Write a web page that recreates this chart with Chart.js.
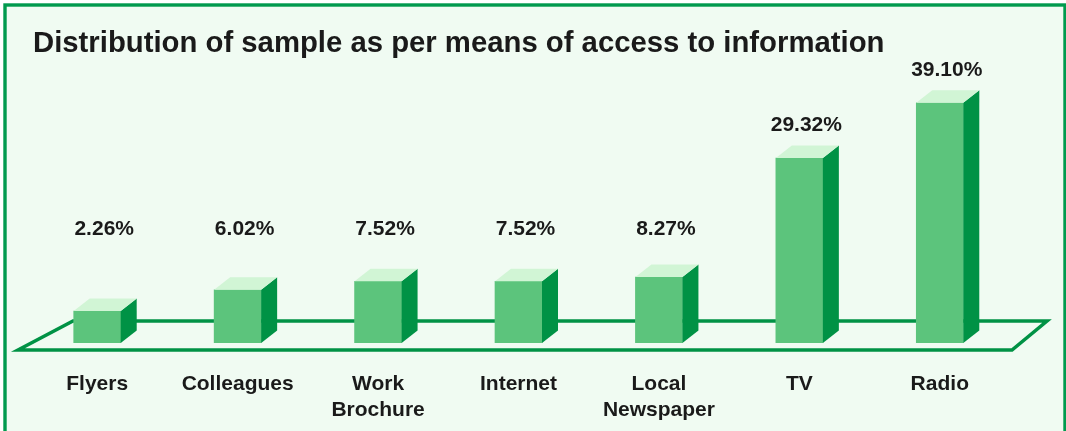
<!DOCTYPE html>
<html>
<head>
<meta charset="utf-8">
<script src="https://cdn.jsdelivr.net/npm/chart.js@4/dist/chart.umd.min.js"></script>
<style>
  html, body { margin: 0; padding: 0; background: #fff; }
  canvas { display: block; }
</style>
</head>
<body>
<canvas id="chartAcceso" width="1066" height="431"></canvas>
<script>
// datos
const titulo = "Distribution of sample as per means of access to information";
const categorias = ["Flyers", "Colleagues", ["Work", "Brochure"], "Internet", ["Local", "Newspaper"], "TV", "Radio"];
const porcentajes = [2.26, 6.02, 7.52, 7.52, 8.27, 29.32, 39.10];
const etiquetas = ["2.26%", "6.02%", "7.52%", "7.52%", "8.27%", "29.32%", "39.10%"];

const FUENTE = "'Liberation Sans', Arial, sans-serif";
const VERDE = "#009245";
const FRENTE = "#5cc47c";
const LADO = "#009245";
const TAPA = "#d1f5d5";
const FONDO = "#f0fbf2";
const DX = 16, DY = 12.5;   // profundidad 3D

// marco, piso y título
const marcoPlugin = {
  id: "marco",
  beforeDraw(chart) {
    const { ctx, width, height } = chart;
    ctx.save();
    ctx.fillStyle = "#fff";
    ctx.fillRect(0, 0, width, height);
    ctx.fillStyle = FONDO;
    ctx.fillRect(5, 5, width - 6, height);
    ctx.strokeStyle = "#009a4e";
    ctx.lineWidth = 3.4;
    ctx.strokeRect(5, 5, width - 6, height + 10);
    ctx.fillStyle = "#1a1a1a";
    ctx.font = `bold 29.3px ${FUENTE}`;
    ctx.textAlign = "left";
    ctx.textBaseline = "middle";
    ctx.fillText(titulo, 33, 44);
    ctx.restore();
  },
  beforeDatasetsDraw(chart) {
    const { ctx, chartArea: a } = chart;
    const yF = a.bottom + 7, yB = a.bottom - 22;
    ctx.save();
    ctx.strokeStyle = VERDE;
    ctx.lineWidth = 3.5;
    ctx.beginPath();
    ctx.moveTo(a.left - 9, yF);
    ctx.lineTo(a.right + 2, yF);
    ctx.lineTo(a.right + 37, yB);
    ctx.lineTo(a.left + 46, yB);
    ctx.closePath();
    ctx.stroke();
    ctx.restore();
  }
};

// caras laterales y tapa de cada barra + etiquetas
const barras3D = {
  id: "barras3D",
  afterDatasetsDraw(chart) {
    const { ctx } = chart;
    const meta = chart.getDatasetMeta(0);
    const pisoEtiqueta = chart.scales.y.getPixelForValue(16.8);
    ctx.save();
    meta.data.forEach((bar, i) => {
      const { x, y, base, width } = bar.getProps(["x", "y", "base", "width"], true);
      const l = x - width / 2, r = x + width / 2;
      ctx.fillStyle = LADO;
      ctx.beginPath();
      ctx.moveTo(r, y); ctx.lineTo(r + DX, y - DY); ctx.lineTo(r + DX, base - DY); ctx.lineTo(r, base);
      ctx.closePath(); ctx.fill();
      ctx.fillStyle = TAPA;
      ctx.beginPath();
      ctx.moveTo(l, y); ctx.lineTo(l + DX, y - DY); ctx.lineTo(r + DX, y - DY); ctx.lineTo(r, y);
      ctx.closePath(); ctx.fill();

      const ly = Math.min(pisoEtiqueta, y - 33);
      ctx.fillStyle = "#1a1a1a";
      ctx.font = `bold 21px ${FUENTE}`;
      ctx.textAlign = "center";
      ctx.textBaseline = "middle";
      ctx.fillText(etiquetas[i], x + 7, ly);
    });
    ctx.restore();
  }
};

const ctx = document.getElementById("chartAcceso").getContext("2d");
new Chart(ctx, {
  type: "bar",
  data: {
    labels: categorias,
    datasets: [{
      label: "Distribución",
      data: porcentajes,
      backgroundColor: FRENTE,
      borderWidth: 0,
      barThickness: 47,
      base: -3.4
    }]
  },
  options: {
    responsive: false,
    animation: false,
    layout: { padding: { left: 27, right: 56, top: 70, bottom: 9 } },
    plugins: {
      legend: { display: false },
      tooltip: { enabled: false },
      title: { display: false }
    },
    scales: {
      x: {
        grid: { display: false, drawTicks: false },
        border: { display: false },
        afterFit: (s) => { s.height = 79; },
        ticks: {
          color: "#1a1a1a",
          padding: 29,
          maxRotation: 0,
          autoSkip: false,
          font: { family: FUENTE, size: 21, weight: "bold", lineHeight: 1.2 }
        }
      },
      y: { display: false, min: -3.4, max: 44.9 }
    }
  },
  plugins: [marcoPlugin, barras3D]
});
</script>
</body>
</html>
